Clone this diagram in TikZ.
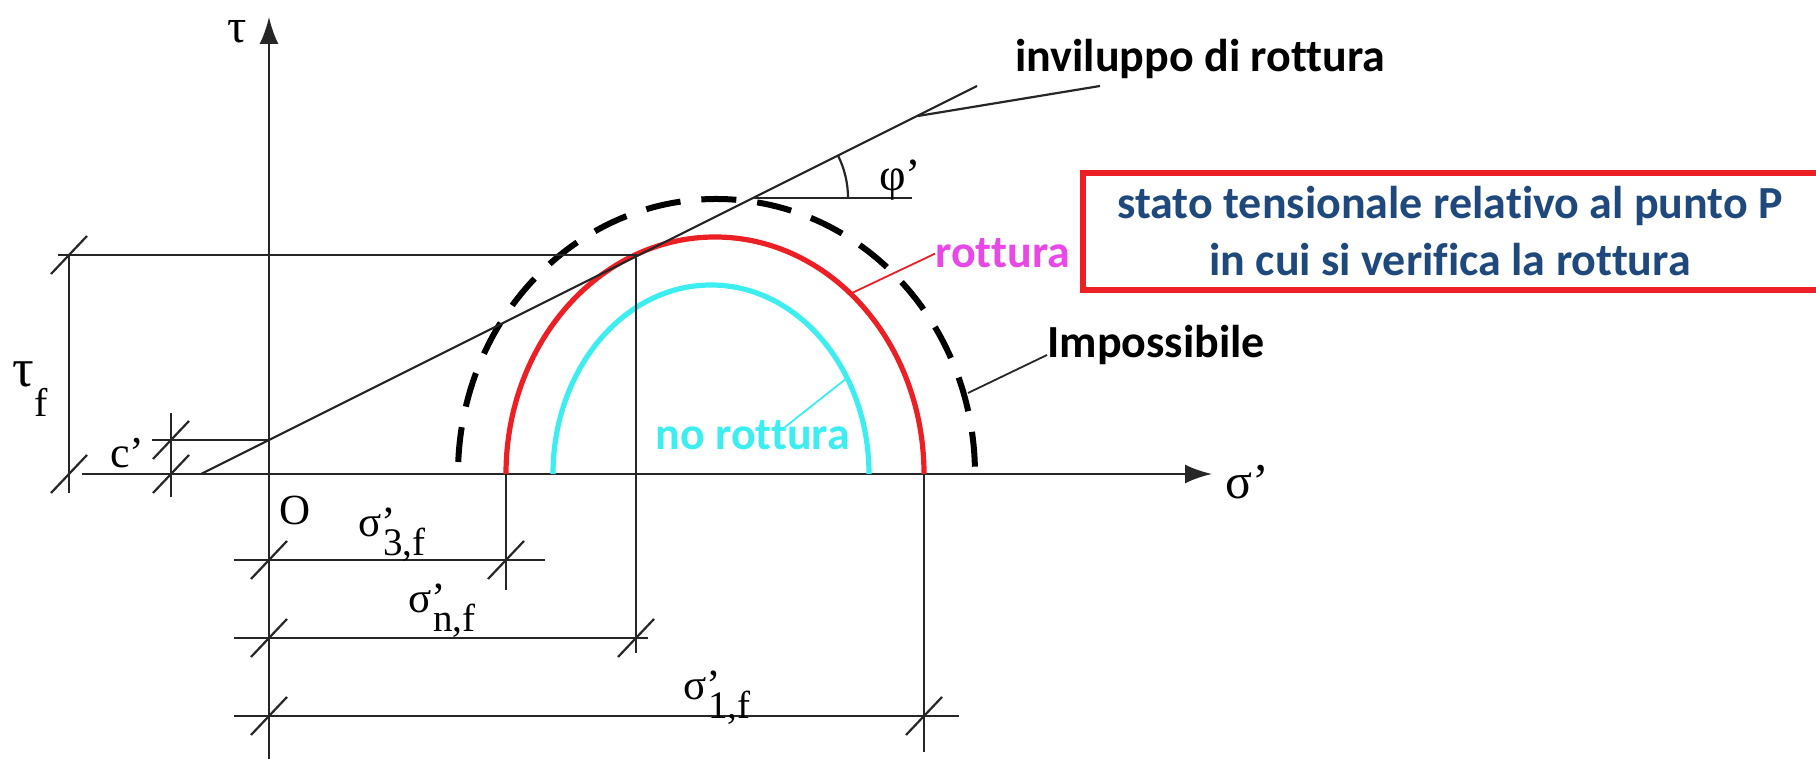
\documentclass[tikz,border=0pt]{standalone}
\usepackage{fontspec}
\setmainfont{Liberation Serif}
\newfontfamily\calib[Ligatures=NoCommon]{Carlito}
\usetikzlibrary{arrows.meta, positioning, calc}
\definecolor{rotred}{RGB}{236,32,36}
\definecolor{nocyan}{RGB}{60,238,240}
\definecolor{rotmag}{RGB}{232,72,232}
\definecolor{boxblue}{RGB}{31,73,125}
\newcommand{\sigf}[1]{σ’\kern-0.3em\raisebox{-0.42em}{\fontsize{19.5}{20}\selectfont #1}}

\begin{document}
\begin{tikzpicture}[x=0.5pt, y=0.5pt,
    axis/.style={line width=1.2pt, black!85, -{Latex[length=13.5pt, width=9.5pt]}},
    dimline/.style={line width=1.1pt, black!85},
    tickmark/.style={line width=1.1pt, black!85},
    mohr/.style={line width=2.6pt},
    serif/.style={inner sep=0pt, anchor=base west, font=\fontsize{21.5}{25}\selectfont},
    callout/.style={inner sep=0pt, anchor=base west, font=\calib\bfseries\fontsize{23}{28}\selectfont},
    leader/.style={line width=0.9pt}
]
\useasboundingbox (0,0) rectangle (1816,759);

% axes
\coordinate (O) at (269,285);
\coordinate (sstart) at (82,285);
\coordinate (send) at (1212,285);
\coordinate (tstart) at (269,0);
\coordinate (tend) at (269,742);
\draw[axis] (sstart) -- (send);
\draw[axis] (tstart) -- (tend);
\node[serif, font=\fontsize{24}{26}\selectfont] (taulab) at (227,716) {τ};
\node[serif, font=\fontsize{25}{27}\selectfont] (siglab) at (1225,260) {σ’};
\node[serif] (olab) at (279,234) {O};

% Mohr circles
\draw[mohr, nocyan] (553,285) arc[start angle=180, end angle=0, x radius=158, y radius=189];
\draw[mohr, rotred] (506,285) arc[start angle=180, end angle=0, x radius=209, y radius=237];
\draw[mohr, line width=3pt, dash pattern=on 17.5pt off 10.5pt] (458.25,297) arc[start angle=177.5, end angle=0.4, x radius=258.5, y radius=275];

% failure envelope
\coordinate (E0) at (201,285);
\coordinate (E1) at (977,673);
\draw[dimline] (E0) -- (E1);
\coordinate (P) at (636,504);
\coordinate (C) at (269,319);

% angle phi'
\coordinate (F) at (753,561);
\draw[dimline] (F) -- (912,561);
\draw[dimline] (848,561) arc[start angle=0, end angle=26.57, radius=95];
\node[serif, font=\fontsize{23}{25}\selectfont] (philab) at (879,568) {φ’};

% dimension lines
\draw[dimline] (58,504) -- (P) -- (636,106);
\draw[dimline] (69,504) -- (69,266);
\draw[dimline] (152,319) -- (C);
\draw[dimline] (171,346) -- (171,262);
\draw[dimline] (506,285) -- (506,169);
\draw[dimline] (924,285) -- (924,7);
\draw[dimline] (234,199) -- (545,199);
\draw[dimline] (234,121) -- (648,121);
\draw[dimline] (234,43) -- (959,43);
\foreach \x/\y in {69/504, 69/285, 171/319, 171/285, 269/199, 506/199, 269/121, 636/121, 269/43, 924/43}
    \draw[tickmark] (\x-18,\y-19) -- (\x+18,\y+19);

\node[serif, font=\fontsize{27}{30}\selectfont] (tauf) at (12,372) {τ\raisebox{-0.55em}{\fontsize{20}{20}\selectfont f}};
\node[serif, font=\fontsize{22}{24}\selectfont] (clab) at (110,291) {c’};
\node[serif] (s3lab) at (358,222) {\sigf{3,f}};
\node[serif] (snlab) at (408,146) {\sigf{n,f}};
\node[serif] (s1lab) at (683,59) {\sigf{1,f}};

% callouts
\node[callout] (inv) at (1015,687) {inviluppo di rottura};
\coordinate (invfoot) at (1100,673);
\coordinate (invtip) at (918,643);
\draw[dimline] (invfoot) -- (invtip);

\node[callout, rotmag] (rot) at (935,491) {rottura};
\coordinate (rottip) at (852,466);
\draw[leader, rotred] (rottip) -- (rot.west);

\node[callout] (imp) at (1047,401) {Impossibile};
\coordinate (imptip) at (968,366);
\draw[dimline, line width=0.9pt] (imptip) -- ($(imp.base west)+(0,3)$);

\node[callout, nocyan] (norot) at (655,309) {no rottura};
\coordinate (norfoot) at (785,332);
\coordinate (nortip) at (847,381);
\draw[leader, nocyan] (norfoot) -- (nortip);

% box, cut off by the right edge
\coordinate (boxsw) at (1083,469);
\coordinate (boxnw) at (1083,586);
\draw[rotred, line width=3pt] (1840,586) -- (boxnw) -- (boxsw) -- (1840,469);
\node[align=center, text=boxblue, inner sep=0pt, font=\calib\bfseries\fontsize{23}{28.5}\selectfont]
      (stato) at (1450,527.5) {stato tensionale relativo al punto P\\in cui si verifica la rottura};

\end{tikzpicture}
\end{document}
